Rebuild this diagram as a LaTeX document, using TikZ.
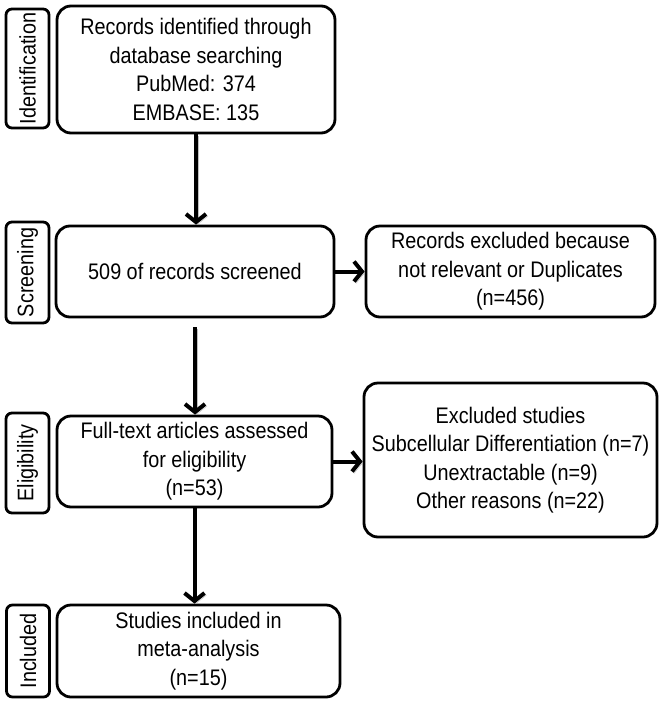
\documentclass[tikz,border=0pt]{standalone}
\usepackage{fontspec}
\setmainfont[FakeStretch=0.88]{Liberation Sans}
\usetikzlibrary{arrows.meta}
\begin{document}
\begin{tikzpicture}[x=1pt, y=1pt,
    phase/.style={draw, line width=2.8pt, rounded corners=6pt, rotate=90, minimum height=43pt, inner sep=0pt, font=\fontsize{22.5}{24}\selectfont},
    box/.style={draw, line width=2.8pt, rounded corners=14pt, align=center, inner sep=0pt, font=\fontsize{22.5}{28.5}\selectfont},
    flow/.style={line width=4pt, -{Straight Barb[length=8pt,width=20pt]},
        preaction={draw=gray!50, transform canvas={shift={(2pt,-2pt)}}}}]
    \useasboundingbox (0,0) rectangle (662,-705);
    % phases
    \node(id)   at (27.5,-68.5) [phase, minimum width=119pt] {Identification};
    \node(scr)  at (27.5,-272.5)[phase, minimum width=101pt] {Screening};
    \node(elig) at (27.5,-463)  [phase, minimum width=100pt] {Eligibility};
    \node(incl) at (28,-651)    [phase, minimum width=92pt]  {Included};
    % flow boxes
    \node(rec)  at (196,-69.5)  [box, minimum width=278pt, minimum height=127pt] {Records identified through\\database searching\\PubMed: 374\\EMBASE: 135};
    \node(scrn) at (195,-271.5) [box, minimum width=278pt, minimum height=91pt]  {509 of records screened};
    \node(full) at (194.5,-461.5)[box, minimum width=275pt, minimum height=91pt] {Full-text articles assessed\\for eligibility\\(n=53)};
    \node(stud) at (198.5,-651) [box, minimum width=283pt, minimum height=92pt]  {Studies included in\\meta-analysis\\(n=15)};
    % exclusions
    \node(excl)   at (510.5,-271.5) [box, minimum width=289pt, minimum height=91pt]  {Records excluded because\\not relevant or Duplicates\\(n=456)};
    \node(exstud) at (510.5,-460)   [box, minimum width=293pt, minimum height=154pt] {Excluded studies\\Subcellular Differentiation (n=7)\\Unextractable (n=9)\\Other reasons (n=22)};
    \draw[flow] (rec.south) -- (rec.south |- scrn.north);
    \draw[flow, shorten <=9pt] (scrn.south) -- (scrn.south |- full.north);
    \draw[flow] (full.south) -- (full.south |- stud.north);
    \draw[flow] (scrn.east) -- (excl.west);
    \draw[flow] (full.east) -- (full.east -| exstud.west);
\end{tikzpicture}
\end{document}
